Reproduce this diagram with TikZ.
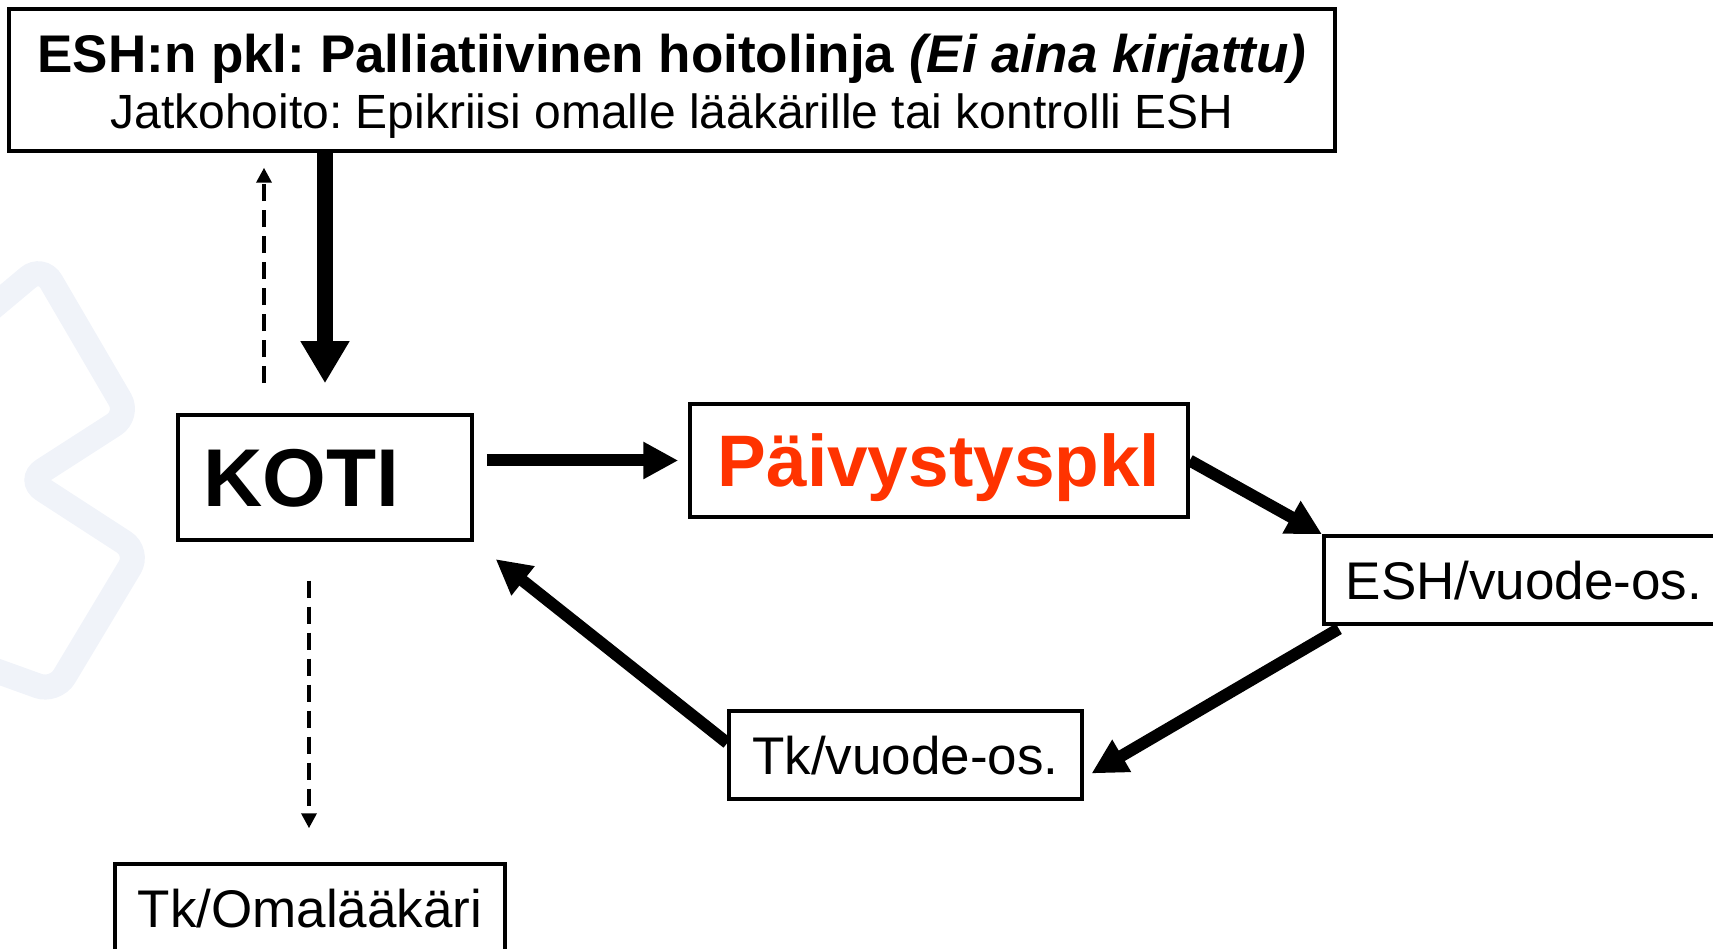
\documentclass[tikz,border=0pt]{standalone}
\usepackage{fontspec}
\setmainfont{Liberation Sans}
\frenchspacing
\definecolor{UrgentOrange}{RGB}{255,51,0}
\definecolor{LogoMist}{RGB}{240,243,249}
\colorlet{ColourBox}{black}
\colorlet{ColourHl1}{UrgentOrange}
\usetikzlibrary{arrows.meta}

\tikzset{
  boxnode/.style={draw=ColourBox,line width=3.5pt,inner sep=0pt,text depth=0pt},
  heavyarrow/.style={line width=16pt,-{Triangle[length=42pt,width=46pt]}},
  flowarrow/.style={line width=12pt,-{Triangle[length=35pt,width=35pt]}},
  dasharrow/.style={line width=3.5pt,dash pattern=on 17pt off 9pt,-{Triangle[length=15pt,width=15pt]}}
}

\begin{document}
\begin{tikzpicture}

  \useasboundingbox (0,0) rectangle (1713pt,948pt);

  % faint logo in the background
  \draw[LogoMist,line width=25pt,rounded corners=18pt]
    (-20pt,630pt) -- (42pt,682pt) -- (129pt,533pt) -- (28pt,468pt) -- (139pt,396pt) -- (55pt,256pt) -- (-20pt,283pt);

  \node[boxnode,minimum width=1326pt,minimum height=142pt,align=center,
        text height=108pt,text depth=10pt,font=\fontsize{48}{56}\selectfont] (esh) at (672pt,868pt)
    {{\fontsize{53}{56}\selectfont\bfseries ESH:n pkl: Palliatiivinen hoitolinja \textit{(Ei aina kirjattu)}}\\
     Jatkohoito: Epikriisi omalle lääkärille tai kontrolli ESH};

  \node[boxnode,text width=244pt,inner xsep=25pt,minimum height=125pt,align=left,
        font=\fontsize{82}{90}\selectfont\bfseries] (koti) at (325pt,470.5pt) {KOTI};

  \node[boxnode,minimum width=498pt,minimum height=113pt,
        font=\fontsize{73}{80}\selectfont\bfseries,text=ColourHl1] (paiv) at (939pt,487.5pt) {Päivystyspkl};

  \node[boxnode,anchor=west,text width=376pt,inner xsep=22pt,minimum height=88pt,align=left,
        font=\fontsize{53}{60}\selectfont] (eshvuode) at (1322pt,368pt) {ESH/vuode-os.};

  \node[boxnode,minimum width=353pt,minimum height=88pt,
        font=\fontsize{53}{60}\selectfont] (tkvuode) at (905.5pt,193pt) {Tk/vuode-os.};

  \node[boxnode,minimum width=390pt,minimum height=88pt,
        font=\fontsize{53}{60}\selectfont] (omalaak) at (310pt,40pt) {Tk/Omalääkäri};

  \coordinate (upfoot) at ([xshift=-61pt]koti.north);
  \coordinate (downtop) at ([xshift=-16pt]koti.south);
  \coordinate (backstart) at ([yshift=12pt]tkvuode.west);
  \coordinate (downstart) at ([xshift=22pt]eshvuode.south west);
  \coordinate (downend) at ([yshift=-23pt]tkvuode.east);

  \draw[heavyarrow,shorten >=30pt] (esh.south -| koti.north) -- (koti.north);
  \draw[dasharrow,shorten <=30pt,shorten >=15pt] (upfoot) -- (upfoot |- esh.south);

  \draw[flowarrow,shorten <=13pt,shorten >=10pt] (koti.east |- paiv.west) -- (paiv.west);
  \draw[flowarrow] (paiv.east) -- (eshvuode.north west);
  \draw[flowarrow,shorten <=6pt,shorten >=9pt] (downstart) -- (downend);
  \draw[flowarrow,shorten >=28pt] (backstart) -- (koti.south east);

  \draw[dasharrow,shorten <=39pt,shorten >=34pt] (downtop) -- (downtop |- omalaak.north);

\end{tikzpicture}
\end{document}
